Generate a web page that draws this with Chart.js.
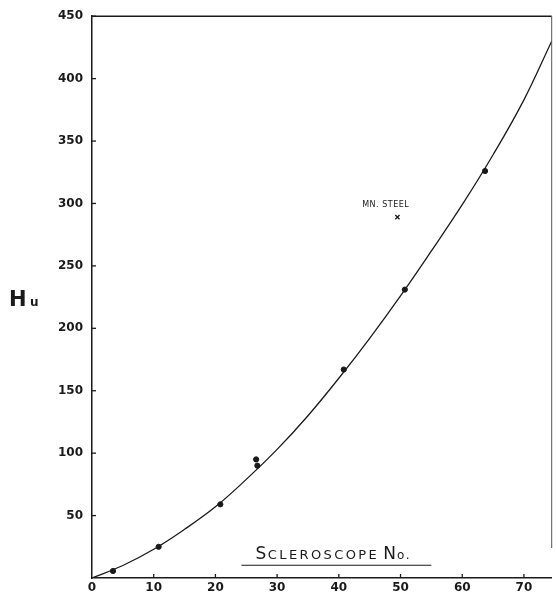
<!DOCTYPE html>
<html>
<head>
<meta charset="utf-8">
<script src="https://cdn.jsdelivr.net/npm/chart.js@4/dist/chart.umd.min.js"></script>
<style>
  html, body { margin: 0; padding: 0; background: #fff; }
  #wrap { width: 557px; height: 595px; position: relative; }
</style>
</head>
<body>
<div id="wrap"><canvas id="hardnessChart"></canvas></div>
<script>
// =========================================
// DATA
// =========================================

// smooth fitted curve
const curveX = [0, 5, 10, 15, 20, 25, 30, 35, 40, 45, 50, 55, 60, 65, 70, 74.5];
const curveY = [0, 10, 23, 39, 57, 79, 103, 130, 160, 192, 226, 262, 299, 339, 383, 430];

// measured points
const sclero = [3.4, 10.8, 20.8, 26.6, 26.8, 40.8, 50.7, 63.7];
const hu = [5.6, 25, 59, 95, 90, 167, 231, 326];

// Mn steel outlier
const mnX = [49.5];
const mnY = [289];

const xTicks = [0, 10, 20, 30, 40, 50, 60, 70];
const yTicks = [50, 100, 150, 200, 250, 300, 350, 400, 450];

const ink = "#1a1a1a";

// =========================================
// EXTRAS: frame, inward ticks, hand labels
// =========================================

const extras = {
  id: "extras",
  afterDraw(chart) {
    const ctx = chart.ctx;
    const a = chart.chartArea;
    const xs = chart.scales.x;
    const ys = chart.scales.y;
    ctx.save();
    ctx.strokeStyle = ink;
    ctx.lineWidth = 1.5;

    // top + right frame
    ctx.beginPath();
    ctx.moveTo(a.left, a.top);
    ctx.lineTo(a.right, a.top);
    ctx.stroke();
    ctx.lineWidth = 1;
    ctx.strokeStyle = "#555";
    ctx.beginPath();
    ctx.moveTo(a.right, a.top);
    ctx.lineTo(a.right, a.bottom - 30);
    ctx.stroke();

    // inward ticks
    ctx.strokeStyle = ink;
    ctx.lineWidth = 1.3;
    yTicks.forEach(v => {
      const py = ys.getPixelForValue(v);
      ctx.beginPath();
      ctx.moveTo(a.left, py);
      ctx.lineTo(a.left + 4, py);
      ctx.stroke();
    });
    xTicks.forEach(v => {
      if (v === 0) return;
      const px = xs.getPixelForValue(v);
      ctx.beginPath();
      ctx.moveTo(px, a.bottom);
      ctx.lineTo(px, a.bottom - 4);
      ctx.stroke();
    });

    // y label "Hu"
    ctx.fillStyle = ink;
    ctx.textBaseline = "alphabetic";
    ctx.textAlign = "left";
    ctx.font = "bold 21px 'DejaVu Sans'";
    ctx.fillText("H", 9, 306);
    ctx.font = "bold 12px 'DejaVu Sans'";
    ctx.fillText("u", 30, 306);

    // x label, drawn inside the plot, underlined
    let tx = xs.getPixelForValue(26.5);
    const ty = ys.getPixelForValue(15);
    const parts = [
      ["S", "17px", "1.5px"], ["CLEROSCOPE", "13px", "2.4px"], [" ", "13px", "0px"],
      ["N", "17px", "1px"], ["o.", "12px", "1.5px"]
    ];
    parts.forEach(p => {
      ctx.font = p[1] + " 'DejaVu Sans'";
      ctx.letterSpacing = p[2];
      ctx.fillText(p[0], tx, ty);
      tx += ctx.measureText(p[0]).width;
    });
    ctx.letterSpacing = "0px";
    ctx.lineWidth = 1.2;
    ctx.beginPath();
    ctx.moveTo(xs.getPixelForValue(24.2), ty + 6);
    ctx.lineTo(xs.getPixelForValue(55), ty + 6);
    ctx.stroke();

    // Mn steel note
    ctx.font = "8px 'DejaVu Sans'";
    ctx.letterSpacing = "0.5px";
    ctx.textAlign = "center";
    ctx.fillText("MN. STEEL", xs.getPixelForValue(47.6), ys.getPixelForValue(297));

    ctx.restore();
  }
};

// =========================================
// CHART
// =========================================

new Chart(document.getElementById("hardnessChart"), {

  type: "scatter",

  data: {
    datasets: [
      {
        data: curveX.map((x, i) => ({ x: x, y: curveY[i] })),
        showLine: true,
        borderColor: ink,
        borderWidth: 1.3,
        pointRadius: 0,
        tension: 0.4
      },
      {
        data: sclero.map((x, i) => ({ x: x, y: hu[i] })),
        backgroundColor: ink,
        borderColor: ink,
        pointRadius: 2.6
      },
      {
        data: mnX.map((x, i) => ({ x: x, y: mnY[i] })),
        pointStyle: "crossRot",
        borderColor: ink,
        borderWidth: 1.3,
        pointRadius: 3
      }
    ]
  },

  options: {
    responsive: true,
    maintainAspectRatio: false,
    animation: false,
    layout: { padding: { left: 0, top: 15, right: 1, bottom: 0 } },
    plugins: {
      legend: { display: false },
      tooltip: { enabled: false }
    },
    scales: {
      x: {
        type: "linear",
        min: 0,
        max: 74.5,
        afterBuildTicks: s => { s.ticks = xTicks.map(v => ({ value: v })); },
        afterFit: s => { s.height = 17; },
        grid: { display: false, drawTicks: false },
        border: { display: true, color: ink, width: 1.5 },
        ticks: {
          color: ink,
          font: { family: "DejaVu Sans", size: 12, weight: "bold" },
          padding: 3,
          maxRotation: 0
        }
      },
      y: {
        type: "linear",
        min: 0,
        max: 450,
        afterBuildTicks: s => { s.ticks = [0].concat(yTicks).map(v => ({ value: v })); },
        afterFit: s => { s.width = 92; },
        grid: { display: false, drawTicks: false },
        border: { display: true, color: ink, width: 1.5 },
        ticks: {
          color: ink,
          font: { family: "DejaVu Sans", size: 12, weight: "bold" },
          padding: 9,
          callback: v => (v === 0 ? "" : v)
        }
      }
    }
  },

  plugins: [extras]
});
</script>
</body>
</html>
